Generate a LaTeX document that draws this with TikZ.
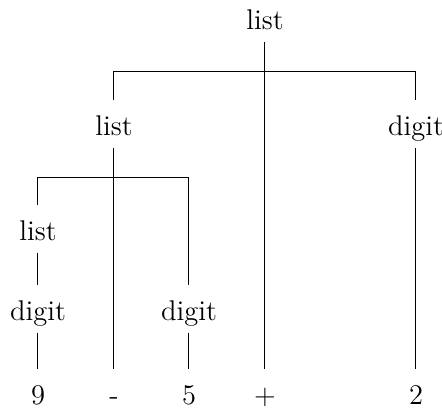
\documentclass[tikz,border=0pt]{standalone}
\begin{document}
\begin{tikzpicture}[x=0.4pt,y=-0.4pt,
  sym/.style={anchor=base,inner xsep=0pt,inner ysep=2pt,text height=11.7pt,text depth=2.8pt,font=\fontsize{11.4}{14}\selectfont},
  edge/.style={draw,line width=0.4pt}]
\useasboundingbox (0,0) rectangle (442,408);
% nodes (positions are baselines)
\node[sym] (root) at (265,29) {list};
\node[sym] (l2) at (114,135) {list};
\node[sym] (dR) at (416,135) {digit};
\node[sym] (l3) at (38,240) {list};
\node[sym] (d1) at (38,320) {digit};
\node[sym] (d2) at (189,320) {digit};
\node[sym] (n9) at (38,404) {9};
\node[sym] (minus) at (114,404) {-};
\node[sym] (n5) at (189,404) {5};
\node[sym] (plus) at (265,404) {+};
\node[sym] (n2) at (416,404) {2};
\coordinate (bus1) at (0,71);
\coordinate (bus2) at (0,177);
% connectors
\path[edge] (root.south) -- (plus.north);
\path[edge] (l2.north) -- (l2.north |- bus1) -- (dR.north |- bus1) -- (dR.north);
\path[edge] (dR.south) -- (n2.north);
\path[edge] (l2.south) -- (minus.north);
\path[edge] (l3.north) -- (l3.north |- bus2) -- (d2.north |- bus2) -- (d2.north);
\path[edge] (l3.south) -- (d1.north);
\path[edge] (d1.south) -- (n9.north);
\path[edge] (d2.south) -- (n5.north);
\end{tikzpicture}
\end{document}
